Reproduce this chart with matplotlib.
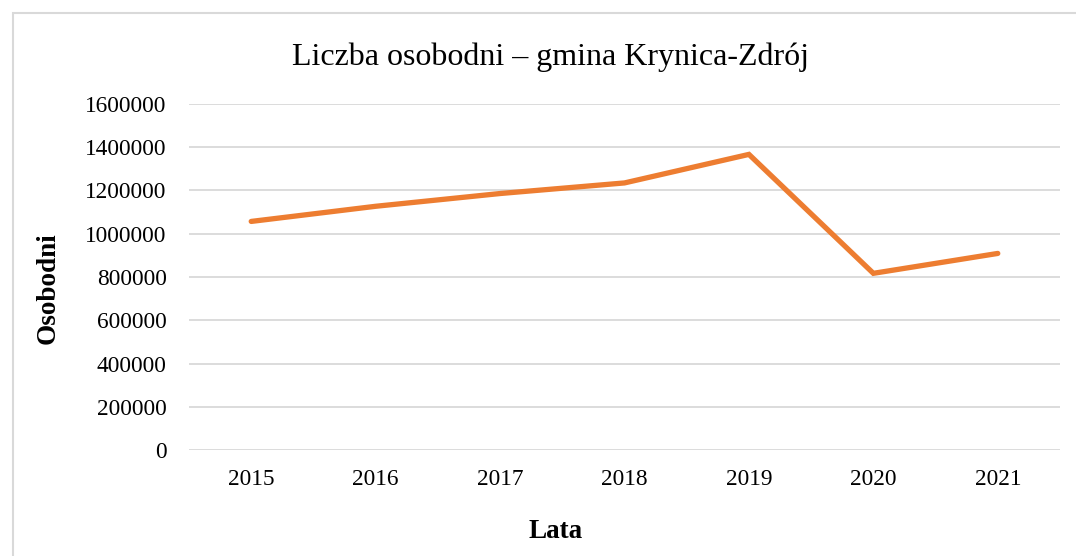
import matplotlib.pyplot as plt
from matplotlib.patches import Rectangle

years = ["2015", "2016", "2017", "2018", "2019", "2020", "2021"]
osobodni = [1057000, 1127000, 1186000, 1235000, 1367000, 817000, 909000]
yticks = [0, 200000, 400000, 600000, 800000, 1000000, 1200000, 1400000, 1600000]

plt.rcParams["font.family"] = ["Liberation Serif", "DejaVu Serif"]

fig = plt.figure(figsize=(10.76, 5.56), dpi=100)
# light chart-area border (runs off the right and bottom edges)
fig.patches.append(Rectangle((13 / 1076, -0.1), 1.2, (556 - 13) / 556 + 0.1,
                             transform=fig.transFigure, fill=False,
                             edgecolor="#D9D9D9", lw=1.5))

ax = fig.add_axes([189 / 1076, 106 / 556, 871 / 1076, 346 / 556])
x = range(len(years))
ax.plot(x, osobodni, color="#ED7D31", lw=3.8, solid_capstyle="round",
        solid_joinstyle="miter")

ax.set_xlim(-0.5, len(years) - 0.5)
ax.set_ylim(0, 1600000)
ax.set_yticks(yticks)
ax.set_yticklabels([str(v) for v in yticks])
ax.set_xticks(list(x))
ax.set_xticklabels(years)
ax.tick_params(axis="both", length=0, labelsize=16.8, colors="#000000")
ax.tick_params(axis="y", pad=16)
ax.tick_params(axis="x", pad=14)
ax.grid(axis="y", color="#D9D9D9", lw=1.3)
ax.set_axisbelow(True)
for s in ax.spines.values():
    s.set_visible(False)

# axis titles placed like the original chart
fig.text(48 / 1076, 1 - 288 / 556, "Osobodni", rotation=90, ha="center",
         va="center", fontsize=19.5, fontweight="bold")
fig.text(556 / 1076, 1 - 532 / 556, "Lata", ha="center", va="center",
         fontsize=19.5, fontweight="bold")
fig.text(550 / 1076, 1 - 57 / 556, "Liczba osobodni \u2013 gmina Krynica-Zdrój",
         ha="center", va="center", fontsize=23)

fig.savefig("out.png", dpi=100)
